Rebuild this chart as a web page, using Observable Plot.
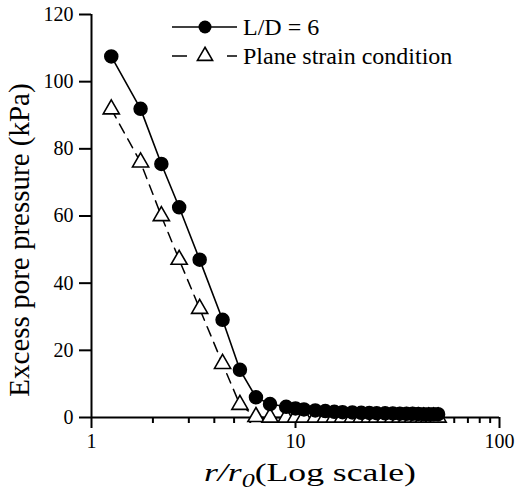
<!DOCTYPE html>
<html>
<head>
<meta charset="utf-8">
<script src="https://cdn.jsdelivr.net/npm/d3@7"></script>
<script src="https://cdn.jsdelivr.net/npm/@observablehq/plot@0.6"></script>
<style>
  html, body { margin: 0; padding: 0; background: #fff; }
  svg { display: block; }
</style>
</head>
<body>
<div id="chart"></div>
<script>
// r/r0 positions (log scale)
const rLD = [1.25, 1.74, 2.2, 2.69, 3.39, 4.39, 5.34, 6.4, 7.5, 9, 10, 11, 12.5, 14, 15.5, 17, 19, 21, 23, 25, 27.5, 30, 32.5, 35, 37.5, 40, 42.5, 45, 47.5, 50];
// Excess pore pressure (kPa), L/D = 6
const uLD = [107.5, 91.9, 75.5, 62.6, 47.0, 29.1, 14.2, 6.0, 4.0, 3.2, 2.7, 2.4, 2.1, 1.9, 1.7, 1.6, 1.5, 1.4, 1.35, 1.3, 1.25, 1.2, 1.15, 1.1, 1.1, 1.05, 1.0, 1.0, 1.0, 1.0];
// Plane strain condition
const rPS = [1.25, 1.74, 2.2, 2.69, 3.39, 4.39, 5.34, 6.4, 7.5, 9, 10, 11, 12.5, 14, 15.5, 17, 19, 21, 23, 25, 27.5, 30, 32.5, 35, 37.5, 40, 42.5, 45, 47.5, 50];
const uPS = [91.8, 76.0, 60.0, 47.0, 32.4, 16.0, 3.8, 0.2, 0, 0, 0, 0, 0, 0, 0, 0, 0, 0, 0, 0, 0, 0, 0, 0, 0, 0, 0, 0, 0, 0];

const xMajor = [1, 10, 100];
const xMinor = [2, 3, 4, 5, 6, 7, 8, 9, 20, 30, 40, 50, 60, 70, 80, 90];
const yTicks = [0, 20, 40, 60, 80, 100, 120];
const seriesNames = ["L/D = 6", "Plane strain condition"];

const ld = rLD.map((r, i) => ({r, u: uLD[i]}));
const ps = rPS.map((r, i) => ({r, u: uPS[i]}));

const font = "'Liberation Serif', 'Times New Roman', serif";

const svg = Plot.plot({
  width: 516,
  height: 497,
  marginLeft: 91,
  marginRight: 17,
  marginTop: 14,
  marginBottom: 80,
  style: {fontFamily: font, fontSize: "20px", color: "black", background: "white"},
  x: {type: "log", domain: [1, 100]},
  y: {domain: [0, 120]},
  marks: [
    Plot.axisY({ticks: yTicks, tickSize: 12, tickPadding: 6, label: null, strokeWidth: 2, fontSize: 20}),
    Plot.axisX({ticks: xMajor, tickSize: 11, tickPadding: 5, label: null, strokeWidth: 2, fontSize: 20, tickFormat: d3.format("d")}),
    Plot.axisX({ticks: xMinor, tickSize: 6, tickFormat: () => "", label: null, strokeWidth: 2}),
    Plot.ruleX([1], {strokeWidth: 2}),
    Plot.ruleY([0], {strokeWidth: 2}),
    Plot.line(ps, {x: "r", y: "u", stroke: "black", strokeWidth: 1.5, strokeDasharray: "10,7"}),
    Plot.dot(ps, {x: "r", y: "u", symbol: "triangle", r: 6, fill: "white", stroke: "black", strokeWidth: 1.6}),
    Plot.line(ld, {x: "r", y: "u", stroke: "black", strokeWidth: 1.6}),
    Plot.dot(ld, {x: "r", y: "u", r: 6.5, fill: "black", stroke: "black"})
  ]
});

const s = d3.select(svg);
// y axis title
s.append("text")
  .attr("transform", "translate(29,240) rotate(-90)")
  .attr("text-anchor", "middle")
  .style("font-family", font).style("font-size", "29px")
  .attr("fill", "black")
  .text("Excess pore pressure (kPa)");
// x axis title
const xt = s.append("text")
  .attr("x", 310).attr("y", 481)
  .attr("text-anchor", "middle")
  .attr("textLength", 212).attr("lengthAdjust", "spacingAndGlyphs")
  .style("font-family", font).style("font-size", "26px")
  .attr("fill", "black");
xt.append("tspan").attr("font-style", "italic").text("r/r");
xt.append("tspan").attr("font-style", "italic").style("font-size", "19px").attr("dy", 6).text("0");
xt.append("tspan").attr("dy", -6).text("(Log scale)");

// legend
const leg = s.append("g").attr("fill", "black");
const rows = [
  {y: 27, dash: null, sym: "circle"},
  {y: 56, dash: "15,40,10", sym: "triangle"}
];
rows.forEach((row, i) => {
  leg.append("line").attr("x1", 172).attr("x2", 237).attr("y1", row.y).attr("y2", row.y)
    .attr("stroke", "black").attr("stroke-width", 1.6)
    .attr("stroke-dasharray", row.dash);
  if (row.sym === "circle") {
    leg.append("circle").attr("cx", 205).attr("cy", row.y).attr("r", 6.5).attr("fill", "black");
  } else {
    leg.append("path").attr("d", d3.symbol(d3.symbolTriangle, 100)())
      .attr("transform", `translate(205,${row.y})`)
      .attr("fill", "white").attr("stroke", "black").attr("stroke-width", 1.6);
  }
  leg.append("text").attr("x", 243).attr("y", row.y).attr("dy", "0.35em")
    .attr("text-anchor", "start")
    .style("font-family", font).style("font-size", "24px")
    .text(seriesNames[i]);
});

document.getElementById("chart").appendChild(svg);
</script>
</body>
</html>
